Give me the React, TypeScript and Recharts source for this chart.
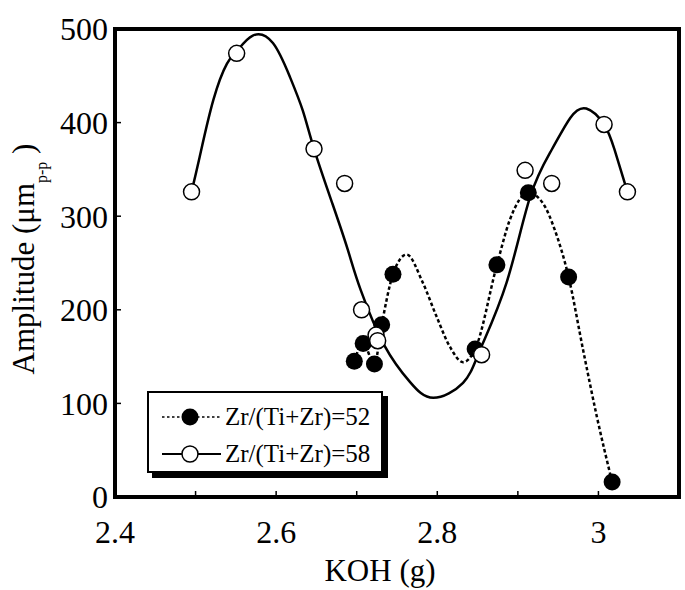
import {
  ComposedChart, Line, Scatter, XAxis, YAxis, ReferenceArea, Label,
} from "recharts";

// measured points
const koh52 = [2.697, 2.708, 2.722, 2.731, 2.745, 2.847, 2.874, 2.913, 2.963, 3.017];
const amp52 = [145, 164, 142, 184, 238, 158, 248, 325, 235, 16];
const koh58 = [2.495, 2.551, 2.647, 2.685, 2.706, 2.724, 2.726, 2.855, 2.909, 2.942, 3.007, 3.036];
const amp58 = [326, 474, 372, 335, 200, 173, 167, 152, 349, 335, 398, 326];

// guide curves
const fit52X = [2.697, 2.708, 2.722, 2.731, 2.745, 2.762, 2.782, 2.799, 2.816, 2.832, 2.847, 2.874, 2.890, 2.913, 2.931, 2.946, 2.963, 2.981, 2.998, 3.017];
const fit52Y = [145, 164, 142, 184, 238, 259, 229, 193, 160, 144, 158, 248, 296, 325, 314, 285, 235, 157, 86, 16];
const fit58X = [2.495, 2.505, 2.522, 2.539, 2.551, 2.571, 2.596, 2.617, 2.633, 2.647, 2.670, 2.689, 2.705, 2.735, 2.766, 2.795, 2.832, 2.853, 2.886, 2.915, 2.942, 2.965, 2.985, 3.007, 3.020, 3.036];
const fit58Y = [326, 363, 424, 463, 476, 493, 485, 449, 413, 372, 313, 264, 221, 161, 123, 106, 122, 157, 229, 320, 371, 405, 415, 398, 371, 326];

const xTicks = [2.4, 2.5, 2.6, 2.7, 2.8, 2.9, 3.0, 3.1];
const xTickLabels = ["2.4", "", "2.6", "", "2.8", "", "3", ""];
const yTicks = [0, 100, 200, 300, 400, 500];
const seriesNames = ["Zr/(Ti+Zr)=52", "Zr/(Ti+Zr)=58"];

const zip = (xs: number[], ys: number[]) => xs.map((x, i) => ({ x, y: ys[i] }));
const pts52 = zip(koh52, amp52);
const pts58 = zip(koh58, amp58);
const curve52 = zip(fit52X, fit52Y);
const curve58 = zip(fit58X, fit58Y);

const FONT = "'Liberation Serif', 'Times New Roman', serif";
const tickStyle = { fill: "#000", fontSize: 32, fontFamily: FONT };

const Filled = (p: any) => <circle cx={p.cx} cy={p.cy} r={8.5} fill="#000" />;
const Open = (p: any) => <circle cx={p.cx} cy={p.cy} r={8} fill="#fff" stroke="#000" strokeWidth={1.5} />;

function LegendBox() {
  const row = (i: number, top: number) => (
    <div style={{ position: "absolute", left: 0, top, height: 24, display: "flex", alignItems: "center" }}>
      <svg width={76} height={24} style={{ display: "block" }}>
        <line x1={13} x2={72} y1={12} y2={12} stroke="#000" strokeWidth={i === 0 ? 1.5 : 2}
          strokeDasharray={i === 0 ? "2.5 2.5" : undefined} />
        {i === 0
          ? <circle cx={41} cy={12} r={8.5} fill="#000" />
          : <circle cx={41} cy={12} r={8} fill="#fff" stroke="#000" strokeWidth={1.5} />}
      </svg>
      <span style={{ fontFamily: FONT, fontSize: 25, lineHeight: "24px", whiteSpace: "nowrap" }}>
        {seriesNames[i]}
      </span>
    </div>
  );
  return (
    <div style={{
      position: "absolute", left: 147, top: 391, width: 236, height: 82, boxSizing: "border-box",
      border: "2px solid #000", boxShadow: "5px 5px 0 #000", background: "#fff",
    }}>
      {row(0, 12)}
      {row(1, 49)}
    </div>
  );
}

export default function App() {
  return (
    <div style={{ position: "absolute", left: 0, top: 0, width: 685, height: 590, background: "#fff" }}>
      <ComposedChart width={685} height={590} margin={{ top: 29, right: 6, bottom: 33, left: 55 }}>
        <XAxis type="number" dataKey="x" domain={[2.4, 3.1]} ticks={xTicks} interval={0}
          allowDataOverflow height={60} axisLine={false}
          tickSize={-6} tickMargin={29} tick={tickStyle}
          tickLine={{ stroke: "#000", strokeWidth: 1.5 }}
          tickFormatter={(v: number) => xTickLabels[xTicks.findIndex(t => Math.abs(t - v) < 1e-6)] ?? ""}>
          <Label content={() => (
            <text x={380} y={581} textAnchor="middle" fontFamily={FONT} fontSize={31} fill="#000">KOH (g)</text>
          )} />
        </XAxis>
        <YAxis type="number" dataKey="y" domain={[0, 500]} ticks={yTicks} interval={0}
          allowDataOverflow width={60} axisLine={false}
          tickSize={-6} tickMargin={13} tick={tickStyle}
          tickLine={{ stroke: "#000", strokeWidth: 1.5 }}>
          <Label content={() => (
            <text transform="translate(34,259) rotate(-90)" textAnchor="middle" fontFamily={FONT} fontSize={31} fill="#000">
              Amplitude (μm<tspan fontSize={16} dy={13}>p-p</tspan><tspan dy={-13}> )</tspan>
            </text>
          )} />
        </YAxis>
        <Line data={curve58} dataKey="y" type="natural" stroke="#000" strokeWidth={2.5}
          dot={false} activeDot={false} isAnimationActive={false} />
        <Line data={curve52} dataKey="y" type="monotone" stroke="#000" strokeWidth={2.5}
          strokeDasharray="3.5 2.5" dot={false} activeDot={false} isAnimationActive={false} />
        <Scatter data={pts52} dataKey="y" shape={Filled} isAnimationActive={false} />
        <Scatter data={pts58} dataKey="y" shape={Open} isAnimationActive={false} />
        <ReferenceArea x1={2.4} x2={3.1} y1={0} y2={500} fill="none" stroke="#000" strokeWidth={4}
          ifOverflow="visible" />
      </ComposedChart>
      <LegendBox />
    </div>
  );
}
